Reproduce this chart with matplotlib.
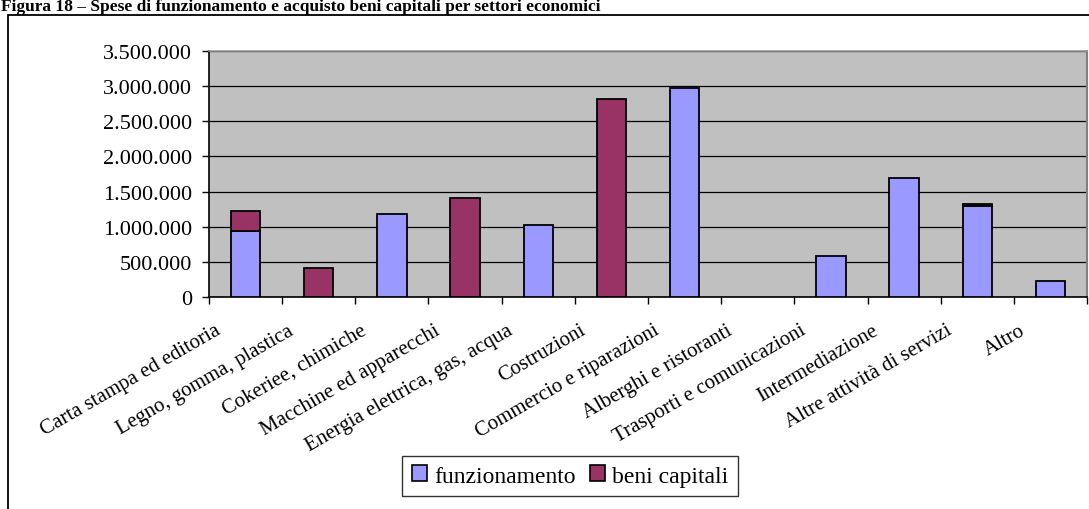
import numpy as np
import matplotlib
matplotlib.use("Agg")
import matplotlib.pyplot as plt
from matplotlib.patches import Rectangle
from matplotlib.ticker import FuncFormatter
import matplotlib.transforms as mtransforms

plt.rcParams['font.family'] = ['Liberation Serif', 'DejaVu Serif']

# settori e spese (euro)
settori = ["Carta stampa ed editoria", "Legno, gomma, plastica", "Cokeriee, chimiche",
           "Macchine ed apparecchi", "Energia elettrica, gas, acqua", "Costruzioni",
           "Commercio e riparazioni", "Alberghi e ristoranti", "Trasporti e comunicazioni",
           "Intermediazione", "Altre attività di servizi", "Altro"]
funzionamento = [942000, 0, 1179000, 0, 1018000, 0, 2973000, 0, 587000, 1690000, 1297000, 223000]
beni_capitali = [285000, 408000, 0, 1406000, 0, 2822000, 0, 0, 0, 0, 32000, 0]
y_ticks = [0, 500000, 1000000, 1500000, 2000000, 2500000, 3000000, 3500000]

COL_FUNZ = "#9999FF"
COL_BENI = "#993366"

fig = plt.figure(figsize=(10.89, 5.10), dpi=100)
W, H = 1089, 510

# cornice esterna del grafico
fig.patches.append(Rectangle((8 / W, -0.05), 1.2, (510 - 16) / H + 0.05,
                             transform=fig.transFigure, fill=False,
                             edgecolor="black", linewidth=1.3))

# titolo in alto
fig.text(1 / W, 1 - 11 / H,
         "Figura 18 – Spese di funzionamento e acquisto beni capitali per settori economici",
         fontsize=12.5, fontweight="bold", ha="left", va="baseline")

ax = fig.add_axes([209 / W, 1 - 298 / H, (1087 - 209) / W, (298 - 52) / H])
ax.set_facecolor("#C0C0C0")

x = np.arange(len(settori))
f = np.array(funzionamento)
b = np.array(beni_capitali)
m1 = f > 0
m2 = b > 0
ax.bar(x[m1], f[m1], width=0.4, color=COL_FUNZ, edgecolor="black", linewidth=1.3, zorder=3)
ax.bar(x[m2], b[m2], bottom=f[m2], width=0.4, color=COL_BENI, edgecolor="black",
       linewidth=1.3, zorder=3)

ax.set_xlim(-0.5, len(settori) - 0.5)
ax.set_ylim(0, 3500000)
ax.set_yticks(y_ticks)
ax.yaxis.set_major_formatter(FuncFormatter(lambda v, p: f"{int(v):,}".replace(",", ".")))
ax.grid(axis="y", color="black", linewidth=0.9, zorder=1)

for s in ["left", "bottom"]:
    ax.spines[s].set_color("black")
    ax.spines[s].set_linewidth(1.2)
ax.spines["top"].set_color("#999999")
ax.spines["top"].set_linewidth(1.2)
ax.spines["right"].set_color("#808080")
ax.spines["right"].set_linewidth(1.5)

ax.tick_params(axis="y", direction="out", length=5, width=1, labelsize=16, pad=7)
ax.set_xticks(x)
ax.set_xticks(np.arange(-0.5, len(settori)), minor=True)
ax.tick_params(axis="x", which="major", length=0, labelsize=15, pad=17)
ax.tick_params(axis="x", which="minor", direction="out", length=5, width=1)
ax.set_xticklabels(settori, rotation=30, ha="right", rotation_mode="default")
shift = mtransforms.ScaledTranslation(-22 / 100, 0, fig.dpi_scale_trans)
for lab in ax.get_xticklabels():
    lab.set_transform(lab.get_transform() + shift)

h1 = Rectangle((0, 0), 1, 1, facecolor=COL_FUNZ, edgecolor="black", linewidth=1.2)
h2 = Rectangle((0, 0), 1, 1, facecolor=COL_BENI, edgecolor="black", linewidth=1.2)
leg = fig.legend([h1, h2], ["funzionamento", "beni capitali"], loc="center",
                 bbox_to_anchor=(570 / W, 1 - 477 / H), ncol=2, fontsize=17,
                 frameon=True, fancybox=False, handlelength=0.65, handleheight=0.65,
                 handletextpad=0.3, columnspacing=0.6, borderpad=0.4)
leg.get_frame().set_edgecolor("black")
leg.get_frame().set_linewidth(1.0)

fig.savefig("out.png", dpi=100)
